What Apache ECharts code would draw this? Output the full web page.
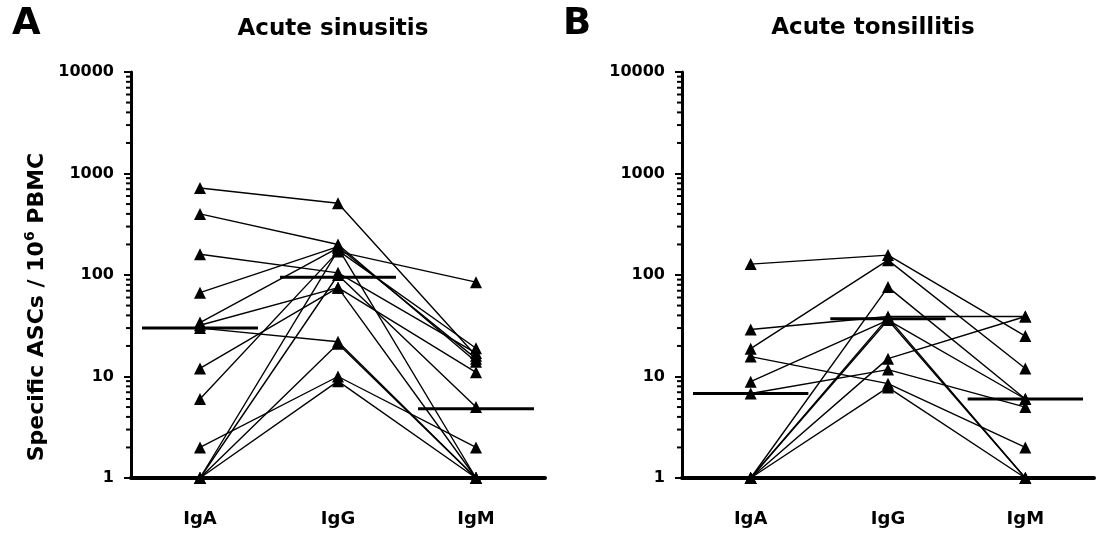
<!DOCTYPE html>
<html>
<head>
<meta charset="utf-8">
<script src="https://cdn.jsdelivr.net/npm/echarts@6/dist/echarts.min.js"></script>
<style>html,body{margin:0;padding:0;background:#fff}#c{width:1105px;height:533px}</style>
</head>
<body>
<div id="c"></div>
<script>
// ---- data ----
const categories = ['IgA', 'IgG', 'IgM'];
const yTickLabels = [1, 10, 100, 1000, 10000];
// Panel A: Acute sinusitis (one entry per subject)
const sinusIgA = [720, 400, 160, 67, 34, 32, 30, 12, 6, 2, 1, 1, 1, 1];
const sinusIgG = [510, 200, 105, 190, 185, 75, 22, 75, 170, 10, 175, 100, 21, 9];
const sinusIgM = [16, 14, 17, 15, 1, 11, 1, 1, 85, 2, 19, 5, 1, 1];
const sinusMedians = [30, 95, 4.8];
// Panel B: Acute tonsillitis
const tonsIgA = [128, 18.8, 1, 29, 8.9, 15.7, 6.8, 1, 1, 1, 1];
const tonsIgG = [157, 140, 76, 39, 36, 8.5, 11.7, 15, 38, 36, 7.8];
const tonsIgM = [25, 12, 6, 39, 6, 2, 5, 39, 1, 1, 1];
const tonsMedians = [6.8, 37, 6];

// ---- styling ----
const FONT = 'DejaVu Sans';
const grids = [
  {left: 131, top: 72, width: 414, height: 406},
  {left: 682, top: 72, width: 412, height: 406}
];
const minorVals = [];
for (let d = 1; d < 10000; d *= 10) for (let k = 2; k <= 9; k++) minorVals.push(k * d);

const xAxes = [], yAxes = [], series = [];
[0, 1].forEach(g => {
  xAxes.push({
    type: 'category', gridIndex: g, data: categories, boundaryGap: true,
    axisLine: {lineStyle: {color: '#000', width: 4}},
    axisTick: {alignWithLabel: true, length: 4, lineStyle: {color: '#000', width: 2}},
    axisLabel: {color: '#000', fontFamily: FONT, fontWeight: 'bold', fontSize: 18, margin: 32},
    splitLine: {show: false}
  });
  xAxes.push({
    type: 'value', gridIndex: g, min: 0.5, max: 3.5, show: false, splitLine: {show: false}
  });
  yAxes.push({
    type: 'log', logBase: 10, gridIndex: g, min: 1, max: 10000,
    axisLine: {show: true, lineStyle: {color: '#000', width: 3}},
    axisTick: {show: true, length: 7, lineStyle: {color: '#000', width: 2}},
    axisLabel: {color: '#000', fontFamily: FONT, fontWeight: 'bold', fontSize: 16, margin: 17,
      formatter: v => String(Math.round(v))},
    splitLine: {show: false}, minorTick: {show: false}
  });
});

function addPanel(g, A, G, M, med) {
  for (let i = 0; i < A.length; i++) {
    series.push({
      type: 'line', xAxisIndex: g * 2, yAxisIndex: g,
      data: [A[i], G[i], M[i]],
      symbol: 'triangle', symbolSize: 12,
      itemStyle: {color: '#000'},
      lineStyle: {color: '#000', width: 1.4},
      silent: true, animation: false, z: 3
    });
  }
  med.forEach((m, j) => {
    series.push({
      type: 'line', xAxisIndex: g * 2 + 1, yAxisIndex: g,
      data: [[j + 1 - 0.42, m], [j + 1 + 0.42, m]],
      symbol: 'none', lineStyle: {color: '#000', width: 3},
      silent: true, animation: false, z: 4
    });
  });
  series.push({
    type: 'custom', xAxisIndex: g * 2 + 1, yAxisIndex: g, silent: true, animation: false,
    data: minorVals.map(v => [0.5, v]),
    renderItem: (params, api) => {
      const p = api.coord([api.value(0), api.value(1)]);
      return {type: 'line', shape: {x1: p[0] - 5, y1: p[1], x2: p[0], y2: p[1]},
        style: {stroke: '#000', lineWidth: 2}};
    }
  });
}
addPanel(0, sinusIgA, sinusIgG, sinusIgM, sinusMedians);
addPanel(1, tonsIgA, tonsIgG, tonsIgM, tonsMedians);

const chart = echarts.init(document.getElementById('c'), null, {renderer: 'canvas'});
chart.setOption({
  backgroundColor: '#fff',
  animation: false,
  grid: grids,
  xAxis: xAxes,
  yAxis: yAxes,
  series: series,
  graphic: [
    {type: 'text', left: 12, top: 6, style: {text: 'A', fill: '#000', font: 'bold 37px "DejaVu Sans"'}},
    {type: 'text', left: 563, top: 6, style: {text: 'B', fill: '#000', font: 'bold 37px "DejaVu Sans"'}},
    {type: 'text', x: 333, y: 29, style: {text: 'Acute sinusitis', fill: '#000', font: 'bold 23px "DejaVu Sans"', textAlign: 'center', textVerticalAlign: 'middle'}},
    {type: 'text', x: 873, y: 28, style: {text: 'Acute tonsillitis', fill: '#000', font: 'bold 23px "DejaVu Sans"', textAlign: 'center', textVerticalAlign: 'middle'}},
    {type: 'text', x: 37, y: 307, rotation: Math.PI / 2,
      style: {
        text: '{a|Specific ASCs / 10}{s|6}{a| PBMC}',
        textAlign: 'center', textVerticalAlign: 'middle', fill: '#000',
        rich: {
          a: {fontFamily: FONT, fontWeight: 'bold', fontSize: 22, fill: '#000', lineHeight: 28},
          s: {fontFamily: FONT, fontWeight: 'bold', fontSize: 14, fill: '#000', lineHeight: 28, verticalAlign: 'top', padding: [0, 0, 10, 0]}
        }
      }}
  ]
});
</script>
</body>
</html>
